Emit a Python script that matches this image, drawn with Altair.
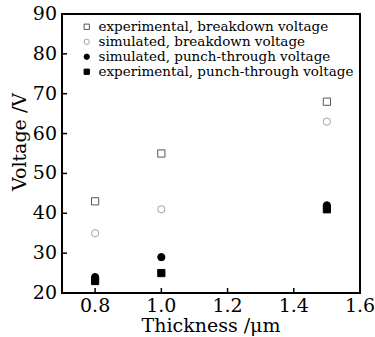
import altair as alt
import pandas as pd

thickness = [0.8, 1.0, 1.5]
series = [
    "experimental, breakdown voltage",
    "simulated, breakdown voltage",
    "simulated, punch-through voltage",
    "experimental, punch-through voltage",
]
exp_breakdown = [43, 55, 68]
sim_breakdown = [35, 41, 63]
sim_punch = [24, 29, 42]
exp_punch = [23, 25, 41]

y_label_values = [20, 30, 40, 50, 60, 70, 80, 90]
x_label_values = [0.8, 1.0, 1.2, 1.4, 1.6]
y_inner_ticks = [30, 40, 50, 60, 70, 80]
x_inner_ticks = [0.8, 1.0, 1.2, 1.4]
x_title = ["Thickness /μm"]
y_title = ["Voltage /V"]

rows = []
for name, vals in zip(series, [exp_breakdown, sim_breakdown, sim_punch, exp_punch]):
    for t, v in zip(thickness, vals):
        rows.append({"series": name, "thickness": t, "voltage": v})
df = pd.DataFrame(rows)

FONT = "DejaVu Serif"
FS = 19
W, H = 298, 279

xscale = alt.Scale(domain=[0.7, 1.6], nice=False, zero=False)
yscale = alt.Scale(domain=[20, 90], nice=False, zero=False)

points = alt.Chart(df).mark_point(size=52, strokeWidth=1, opacity=1, filled=False).encode(
    x=alt.X("thickness:Q", scale=xscale, axis=None),
    y=alt.Y("voltage:Q", scale=yscale, axis=None),
    shape=alt.Shape("series:N", sort=series,
                    scale=alt.Scale(domain=series, range=["square", "circle", "circle", "square"]),
                    legend=alt.Legend(title=None, orient="none", legendX=18, legendY=6,
                                      labelFont=FONT, labelFontSize=13.5, labelColor="black",
                                      labelLimit=0,
                                      symbolSize=28, rowPadding=0, labelOffset=5,
                                      symbolStrokeWidth=1)),
    fill=alt.Fill("series:N", sort=series,
                  scale=alt.Scale(domain=series, range=["white", "white", "black", "black"])),
    stroke=alt.Stroke("series:N", sort=series,
                      scale=alt.Scale(domain=series, range=["#555555", "#a0a0a0", "black", "black"])),
)

ylabels = alt.Chart(pd.DataFrame({"voltage": y_label_values})).mark_text(
    font=FONT, fontSize=FS, color="black", align="right", baseline="middle", dx=-5
).encode(y=alt.Y("voltage:Q", scale=yscale, axis=None), x=alt.value(0),
         text=alt.Text("voltage:Q", format="d"))

xlabels = alt.Chart(pd.DataFrame({"thickness": x_label_values})).mark_text(
    font=FONT, fontSize=FS, color="black", align="center", baseline="top", dy=4
).encode(x=alt.X("thickness:Q", scale=xscale, axis=None), y=alt.value(H),
         text=alt.Text("thickness:Q", format=".1f"))

xtitle = alt.Chart(pd.DataFrame({"t": x_title})).mark_text(
    font=FONT, fontSize=FS, color="black", align="center", baseline="alphabetic"
).encode(x=alt.value(W / 2), y=alt.value(H + 39), text="t:N")

ytitle = alt.Chart(pd.DataFrame({"t": y_title})).mark_text(
    font=FONT, fontSize=FS, color="black", align="center", baseline="middle", angle=270
).encode(x=alt.value(-42), y=alt.value(128), text="t:N")

yticks = alt.Chart(pd.DataFrame({"v": y_inner_ticks})).mark_rule(color="black", strokeWidth=1.5).encode(
    y=alt.Y("v:Q", scale=yscale, axis=None), x=alt.value(0), x2=alt.value(5)
)
xticks = alt.Chart(pd.DataFrame({"t": x_inner_ticks})).mark_rule(color="black", strokeWidth=1.5).encode(
    x=alt.X("t:Q", scale=xscale, axis=None), y=alt.value(H), y2=alt.value(H - 5)
)

one = pd.DataFrame({"k": [0]})
top = alt.Chart(one).mark_rule(color="black", strokeWidth=2).encode(
    x=alt.value(-1), x2=alt.value(W + 1), y=alt.value(0))
bottom = alt.Chart(one).mark_rule(color="black", strokeWidth=2).encode(
    x=alt.value(-1), x2=alt.value(W + 1), y=alt.value(H))
left = alt.Chart(one).mark_rule(color="black", strokeWidth=2).encode(
    y=alt.value(-1), y2=alt.value(H + 1), x=alt.value(0))
right = alt.Chart(one).mark_rule(color="black", strokeWidth=2).encode(
    y=alt.value(-1), y2=alt.value(H + 1), x=alt.value(W))

chart = alt.layer(
    points, yticks, xticks, top, bottom, left, right, ylabels, xlabels, xtitle, ytitle
).properties(
    width=W, height=H,
    background="white",
    autosize=alt.AutoSizeParams(type="none"),
    padding={"left": 62, "top": 14, "right": 15, "bottom": 44},
).configure_view(stroke=None)

chart.save("out.html", embed_options={"renderer": "svg", "actions": False})
